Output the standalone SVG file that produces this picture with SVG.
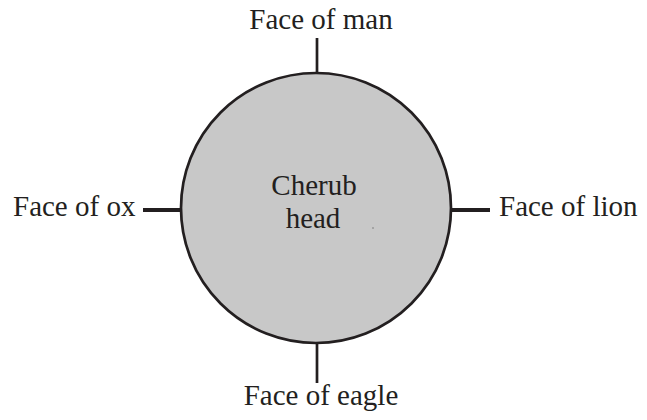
<svg xmlns="http://www.w3.org/2000/svg" width="647" height="420" viewBox="0 0 647 420">
<style>
.lbl{font-family:'Liberation Serif','Times New Roman',serif;font-size:29px;fill:#231f20;}
.thin{stroke:#231f20;stroke-width:2.7;}
.thick{stroke:#231f20;stroke-width:4;}
</style>
<rect width="647" height="420" fill="#ffffff"/>
<g id="connectors">
<line class="thin" x1="317" y1="38" x2="317" y2="74"/>
<line class="thin" x1="317" y1="342" x2="317" y2="383"/>
<line class="thick" x1="143" y1="210" x2="182" y2="210"/>
<line class="thick" x1="450" y1="210" x2="490" y2="210"/>
</g>
<g id="cherub">
<circle cx="316" cy="208" r="135" fill="#c8c8c8" stroke="#231f20" stroke-width="2.7"/>
<text class="lbl" x="314" y="195" text-anchor="middle">Cherub</text>
<text class="lbl" x="313" y="228" text-anchor="middle">head</text>
<circle cx="373" cy="228" r="0.8" fill="#777"/>
</g>
<g id="man"><text class="lbl" x="321" y="29" text-anchor="middle">Face of man</text></g>
<g id="ox"><text class="lbl" x="13" y="216">Face of ox</text></g>
<g id="lion"><text class="lbl" x="499" y="216">Face of lion</text></g>
<g id="eagle"><text class="lbl" x="321" y="405" text-anchor="middle">Face of eagle</text></g>
</svg>
